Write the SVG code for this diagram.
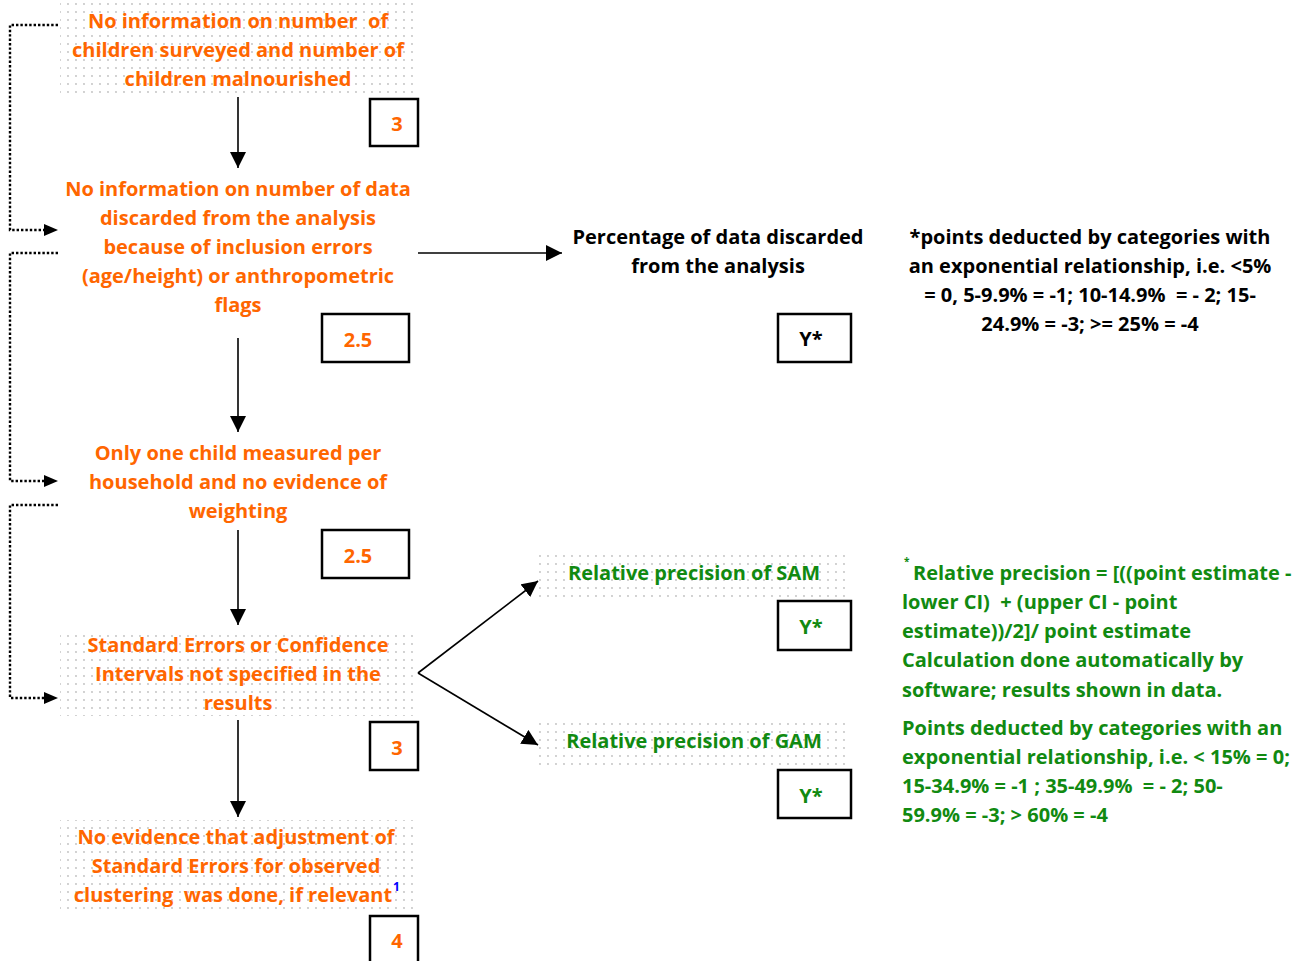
<svg xmlns="http://www.w3.org/2000/svg" width="1313" height="961" viewBox="0 0 1313 961">
<defs>
<pattern id="dots" x="0" y="0" width="8" height="8" patternUnits="userSpaceOnUse">
<circle cx="4" cy="4" r="0.9" fill="#bdbdbd"/>
</pattern>
<marker id="arr" viewBox="0 0 10 10" refX="10" refY="5" markerWidth="16" markerHeight="16" markerUnits="userSpaceOnUse" orient="auto">
<path d="M0,0 L10,5 L0,10 z" fill="#000"/>
</marker>
<style>
.t{font-family:"Open Sans","Noto Sans","Liberation Sans",sans-serif;font-weight:bold;font-size:20px;text-anchor:middle;white-space:pre}
.o{fill:#ff6600}
.g{fill:#118a11}
.k{fill:#000}
.l{text-anchor:start}
.dotbox{fill:url(#dots)}
.nb{fill:#fff;stroke:#000;stroke-width:2.5}
.ln{stroke:#000;stroke-width:1.6;fill:none}
.dl{stroke:#000;stroke-width:2.4;fill:none;stroke-dasharray:2.4 2}
</style>
</defs>
<rect width="1313" height="961" fill="#fff"/>

<g id="connectors">
<line class="ln" x1="238" y1="97" x2="238" y2="168" marker-end="url(#arr)"/>
<line class="ln" x1="238" y1="338" x2="238" y2="432" marker-end="url(#arr)"/>
<line class="ln" x1="238" y1="530" x2="238" y2="625" marker-end="url(#arr)"/>
<line class="ln" x1="238" y1="720" x2="238" y2="817" marker-end="url(#arr)"/>
<line class="ln" x1="418" y1="253" x2="562" y2="253" marker-end="url(#arr)"/>
<line class="ln" x1="418" y1="673" x2="538" y2="581" marker-end="url(#arr)"/>
<line class="ln" x1="418" y1="673" x2="538" y2="745" marker-end="url(#arr)"/>
<polyline class="dl" points="58,25 10,25 10,230 44,230"/>
<polygon points="44,224 58,230 44,236" fill="#000"/>
<polyline class="dl" points="58,253 10,253 10,481 44,481"/>
<polygon points="44,475 58,481 44,487" fill="#000"/>
<polyline class="dl" points="58,505 10,505 10,698 44,698"/>
<polygon points="44,692 58,698 44,704" fill="#000"/>
</g>

<g id="node1">
<rect class="dotbox" x="60" y="3" width="356" height="92"/>
<text class="t o" x="238" y="28" xml:space="preserve">No information on number  of</text>
<text class="t o" x="238" y="57">children surveyed and number of</text>
<text class="t o" x="238" y="86">children malnourished</text>
</g>
<g id="score1">
<rect class="nb" x="370" y="99" width="48" height="47"/>
<text class="t o" x="397" y="131">3</text>
</g>

<g id="node2">
<text class="t o" x="238" y="196">No information on number of data</text>
<text class="t o" x="238" y="225">discarded from the analysis</text>
<text class="t o" x="238" y="254">because of inclusion errors</text>
<text class="t o" x="238" y="283">(age/height) or anthropometric</text>
<text class="t o" x="238" y="312">flags</text>
</g>
<g id="score2">
<rect class="nb" x="322" y="314" width="87" height="48"/>
<text class="t o" x="358" y="347">2.5</text>
</g>

<g id="node3">
<text class="t o" x="238" y="460">Only one child measured per</text>
<text class="t o" x="238" y="489">household and no evidence of</text>
<text class="t o" x="238" y="518">weighting</text>
</g>
<g id="score3">
<rect class="nb" x="322" y="530" width="87" height="48"/>
<text class="t o" x="358" y="563">2.5</text>
</g>

<g id="node4">
<rect class="dotbox" x="60" y="630" width="356" height="86"/>
<text class="t o" x="238" y="652">Standard Errors or Confidence</text>
<text class="t o" x="238" y="681">Intervals not specified in the</text>
<text class="t o" x="238" y="710">results</text>
</g>
<g id="score4">
<rect class="nb" x="370" y="722" width="48" height="48"/>
<text class="t o" x="397" y="755">3</text>
</g>

<g id="node5">
<rect class="dotbox" x="60" y="820" width="356" height="89"/>
<text class="t o" x="236" y="844">No evidence that adjustment of</text>
<text class="t o" x="236" y="873">Standard Errors for observed</text>
<text class="t o" x="233" y="902" xml:space="preserve">clustering  was done, if relevant</text>
<text class="t l" x="393" y="891" style="font-size:12px;fill:#0000ff">1</text>
</g>
<g id="score5">
<rect class="nb" x="370" y="916" width="48" height="48"/>
<text class="t o" x="397" y="948">4</text>
</g>

<g id="node6">
<text class="t k" x="718" y="244">Percentage of data discarded</text>
<text class="t k" x="718" y="273">from the analysis</text>
</g>
<g id="score6">
<rect class="nb" x="778" y="314" width="73" height="48"/>
<text class="t k" x="811" y="346">Y*</text>
</g>

<g id="note1">
<text class="t k" x="1090" y="244">*points deducted by categories with</text>
<text class="t k" x="1090" y="273">an exponential relationship, i.e. &lt;5%</text>
<text class="t k" x="1090" y="302" xml:space="preserve">= 0, 5-9.9% = -1; 10-14.9%  = - 2; 15-</text>
<text class="t k" x="1090" y="331">24.9% = -3; &gt;= 25% = -4</text>
</g>

<g id="node7">
<rect class="dotbox" x="538" y="555" width="312" height="46"/>
<text class="t g" x="694" y="580">Relative precision of SAM</text>
</g>
<g id="score7">
<rect class="nb" x="778" y="601" width="73" height="49"/>
<text class="t g" x="811" y="634">Y*</text>
</g>

<g id="node8">
<rect class="dotbox" x="538" y="722" width="312" height="48"/>
<text class="t g" x="694" y="748">Relative precision of GAM</text>
</g>
<g id="score8">
<rect class="nb" x="778" y="770" width="73" height="48"/>
<text class="t g" x="811" y="803">Y*</text>
</g>

<g id="note2">
<text class="t g l" x="904" y="565" style="font-size:10px">*</text>
<text class="t g l" x="913" y="580">Relative precision = [((point estimate -</text>
<text class="t g l" x="902" y="609" xml:space="preserve">lower CI)  + (upper CI - point</text>
<text class="t g l" x="902" y="638">estimate))/2]/ point estimate</text>
<text class="t g l" x="902" y="667">Calculation done automatically by</text>
<text class="t g l" x="902" y="697">software; results shown in data.</text>
<text class="t g l" x="902" y="735">Points deducted by categories with an</text>
<text class="t g l" x="902" y="764">exponential relationship, i.e. &lt; 15% = 0;</text>
<text class="t g l" x="902" y="793" xml:space="preserve">15-34.9% = -1 ; 35-49.9%  = - 2; 50-</text>
<text class="t g l" x="902" y="822">59.9% = -3; &gt; 60% = -4</text>
</g>
</svg>
